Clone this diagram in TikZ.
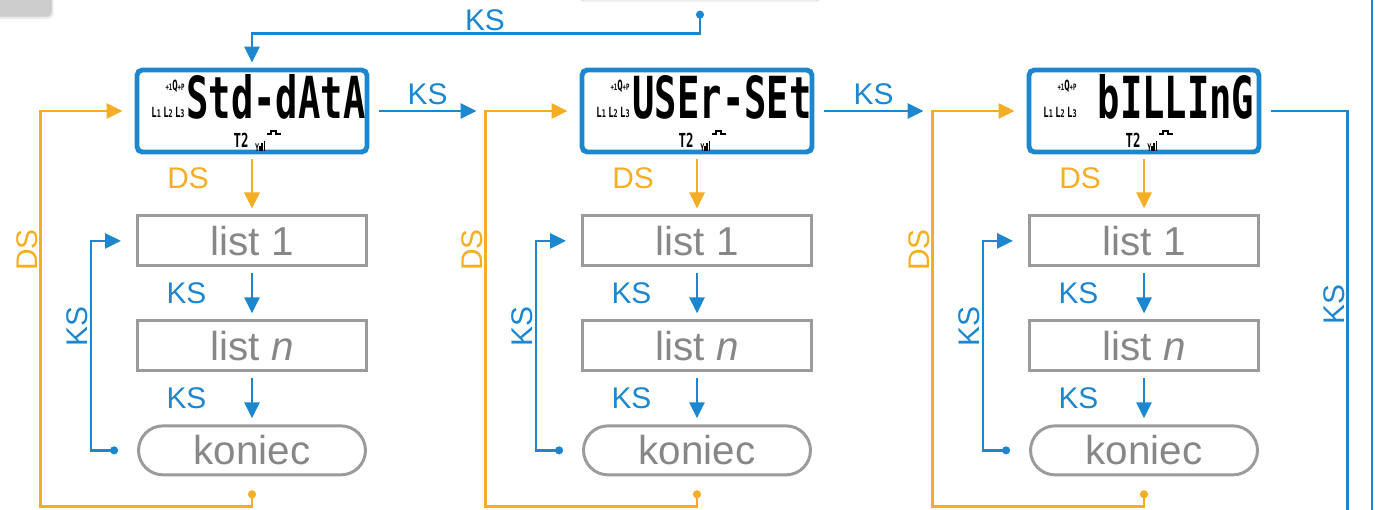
\documentclass[tikz,border=0pt]{standalone}
\usepackage{fontspec}
\setmainfont{Liberation Sans}
\newfontfamily\lcdfont{DejaVu Sans Mono}[FakeStretch=0.64]
\usepackage{xcolor}
\usepackage{tikz}
\usetikzlibrary{arrows.meta, positioning, calc, shadows}

\definecolor{ksblue}{RGB}{28,134,206}
\definecolor{dsorange}{RGB}{245,174,35}
\definecolor{boxgrey}{RGB}{155,155,155}
\definecolor{textgrey}{RGB}{135,135,135}

% small symbols on the meter display
\newcommand{\lcdicons}[1]{%
  \node[icon] (#1-q) at ($(#1.center)+(-77,-25)$) {{\fontsize{5}{5}\selectfont+1}Q{\fontsize{5}{5}\selectfont+P}};
  \node[icon] (#1-l) at ($(#1.center)+(-84,1)$) {L{\fontsize{6}{6}\selectfont1}\,L{\fontsize{6}{6}\selectfont2}\,L{\fontsize{6}{6}\selectfont3}};
  \node[icon, font=\lcdfont\bfseries\fontsize{11}{11}\selectfont] (#1-t) at ($(#1.center)+(-11,29)$) {T2};
  \node[icon, font=\lcdfont\bfseries\fontsize{6}{6}\selectfont] (#1-s) at ($(#1.center)+(8,35)$) {Y\rule{0.7pt}{3pt}\hspace{0.5pt}\rule{0.7pt}{4.5pt}\hspace{0.5pt}\rule{0.7pt}{6pt}};
  \draw[line width=0.8pt] ($(#1.center)+(15,23)$) -- ++(4,0) -- ++(0,-3) -- ++(5,0) -- ++(0,3) -- ++(5,0);
}

\begin{document}
\begin{tikzpicture}[x=0.02cm, y=-0.02cm,
      lcd/.style={
        rectangle, rounded corners=3pt, draw=ksblue, line width=2.8pt, fill=white,
        minimum width=4.6cm, minimum height=1.64cm},
      lcdtxt/.style={font=\lcdfont\bfseries\fontsize{33}{33}\selectfont,
        inner sep=0pt, text height=0.8cm, text depth=0pt},
      icon/.style={font=\lcdfont\bfseries\fontsize{8}{8}\selectfont, inner sep=0pt},
      listbox/.style={
        rectangle, draw=boxgrey, line width=1.7pt, fill=white,
        minimum width=4.58cm, minimum height=1.0cm, text=textgrey,
        font=\fontsize{23}{23}\selectfont},
      endbox/.style={
        listbox, rounded corners=0.49cm, minimum width=4.54cm, minimum height=0.98cm},
      prevbox/.style={
        rectangle, rounded corners=2pt, draw=boxgrey!25, line width=0.8pt,
        minimum width=4.8cm, minimum height=0.8cm},
      menubox/.style={
        rectangle, rounded corners=3pt, draw=black!12, fill=black!20,
        minimum width=2.08cm, minimum height=1.08cm,
        drop shadow={opacity=0.15, shadow xshift=1pt, shadow yshift=-1pt}},
      lbl/.style={font=\fontsize{17}{17}\selectfont, inner sep=1pt, text=ksblue},
      dslbl/.style={lbl, text=dsorange},
      ksarr/.style={-{Triangle[length=0.32cm, width=0.3cm]}, line width=1.6pt, ksblue},
      dsarr/.style={-{Triangle[length=0.32cm, width=0.3cm]}, line width=1.6pt, dsorange},
      ksloop/.style={{Circle[length=4.5pt]}-{Triangle[length=0.32cm, width=0.3cm]}, line width=1.6pt, ksblue},
      dsloop/.style={{Circle[length=4.5pt]}-{Triangle[length=0.32cm, width=0.3cm]}, line width=1.6pt, dsorange},
      ksline/.style={line width=1.6pt, ksblue},
      node distance=1.04cm
    ]
    \useasboundingbox (0,0) rectangle (1379,510);

    % --- Cut boxes at the top ---
    \node[menubox] (menu) at (0,-10) {};
    \node[prevbox] (prev) at (700,-19) {};

    % --- Displays ---
    \node[lcd] (std)  at (252,111)  {};
    \node[lcd] (user) at (697,111)  {};
    \node[lcd] (bill) at (1144,111) {};
    \node[lcdtxt] (std-txt)  at (276,99)  {Std-dAtA};
    \node[lcdtxt] (user-txt) at (722,99)  {USEr-SEt};
    \node[lcdtxt] (bill-txt) at (1176,99) {bILLInG};
    \lcdicons{std}
    \lcdicons{user}
    \lcdicons{bill}

    % --- Lists ---
    \node[listbox, below=1.2cm of std] (std-l1) {list 1};
    \node[listbox, below=of std-l1]    (std-ln) {list \textit{n}};
    \node[endbox, below=of std-ln]     (std-end) {koniec};
    \node[listbox, below=1.2cm of user] (user-l1) {list 1};
    \node[listbox, below=of user-l1]    (user-ln) {list \textit{n}};
    \node[endbox, below=of user-ln]     (user-end) {koniec};
    \node[listbox, below=1.2cm of bill] (bill-l1) {list 1};
    \node[listbox, below=of bill-l1]    (bill-ln) {list \textit{n}};
    \node[endbox, below=of bill-ln]     (bill-end) {koniec};

    % --- Joints and free ends ---
    \coordinate (std-in)  at ($(std.west)+(-94,0)$);
    \coordinate (user-in) at ($(user.west)+(-94,0)$);
    \coordinate (bill-in) at ($(bill.west)+(-94,0)$);
    \coordinate (bill-out) at ($(bill.east)+(86,404)$);
    \coordinate (ret-top) at (1372,-5);
    \coordinate (ret-bot) at (1372,515);

    % --- KS from the top ---
    \draw[ksloop, shorten <=0.18cm, shorten >=0.1cm] (prev.south) -- ++(0,32)
      -| node[lbl, above, pos=0.24] (top-ks) {KS} (std.north);

    % --- Column arrows ---
    \draw[dsarr, shorten <=0.1cm, shorten >=0.12cm] (std) -- node[dslbl, left=0.8cm, pos=0.4] (std-ds) {DS} (std-l1);
    \draw[ksarr, shorten <=0.12cm, shorten >=0.12cm] (std-l1) -- node[lbl, left=0.85cm] (std-ks1) {KS} (std-ln);
    \draw[ksarr, shorten <=0.12cm, shorten >=0.12cm] (std-ln) -- node[lbl, left=0.85cm] (std-ks2) {KS} (std-end);
    \draw[dsarr, shorten <=0.1cm, shorten >=0.12cm] (user) -- node[dslbl, left=0.8cm, pos=0.4] (user-ds) {DS} (user-l1);
    \draw[ksarr, shorten <=0.12cm, shorten >=0.12cm] (user-l1) -- node[lbl, left=0.85cm] (user-ks1) {KS} (user-ln);
    \draw[ksarr, shorten <=0.12cm, shorten >=0.12cm] (user-ln) -- node[lbl, left=0.85cm] (user-ks2) {KS} (user-end);
    \draw[dsarr, shorten <=0.1cm, shorten >=0.12cm] (bill) -- node[dslbl, left=0.8cm, pos=0.4] (bill-ds) {DS} (bill-l1);
    \draw[ksarr, shorten <=0.12cm, shorten >=0.12cm] (bill-l1) -- node[lbl, left=0.85cm] (bill-ks1) {KS} (bill-ln);
    \draw[ksarr, shorten <=0.12cm, shorten >=0.12cm] (bill-ln) -- node[lbl, left=0.85cm] (bill-ks2) {KS} (bill-end);

    % --- KS loops back to list 1 ---
    \draw[ksloop, shorten <=0.38cm, shorten >=0.3cm] (std-end.west) -- ++(-46,0)
      |- node[lbl, rotate=90, above=0.3cm, pos=0.26] (std-ksl) {KS} (std-l1.west);
    \draw[ksloop, shorten <=0.38cm, shorten >=0.3cm] (user-end.west) -- ++(-46,0)
      |- node[lbl, rotate=90, above=0.3cm, pos=0.26] (user-ksl) {KS} (user-l1.west);
    \draw[ksloop, shorten <=0.38cm, shorten >=0.3cm] (bill-end.west) -- ++(-46,0)
      |- node[lbl, rotate=90, above=0.3cm, pos=0.26] (bill-ksl) {KS} (bill-l1.west);

    % --- DS loops back to the display ---
    \draw[dsloop, shorten <=0.28cm, shorten >=0.24cm] (std-end.south) -- ++(0,30)
      -| node[dslbl, rotate=90, above=0.38cm, pos=0.8] (std-dsl) {DS} (std-in) -- (std.west);
    \draw[dsloop, shorten <=0.28cm, shorten >=0.24cm] (user-end.south) -- ++(0,30)
      -| node[dslbl, rotate=90, above=0.38cm, pos=0.8] (user-dsl) {DS} (user-in) -- (user.west);
    \draw[dsloop, shorten <=0.28cm, shorten >=0.24cm] (bill-end.south) -- ++(0,30)
      -| node[dslbl, rotate=90, above=0.38cm, pos=0.8] (bill-dsl) {DS} (bill-in) -- (bill.west);

    % --- KS between displays ---
    \draw[ksarr, shorten <=0.2cm, shorten >=0.18cm] (std.east) -- node[lbl, above=2pt] (std-next) {KS} (user-in);
    \draw[ksarr, shorten <=0.2cm, shorten >=0.18cm] (user.east) -- node[lbl, above=2pt] (user-next) {KS} (bill-in);
    \draw[ksline, shorten <=0.2cm] (bill.east) -| node[lbl, rotate=90, above=0.5cm, pos=0.77] (bill-next) {KS} (bill-out);
    \draw[ksline] (ret-top) -- (ret-bot);
  \end{tikzpicture}
\end{document}
